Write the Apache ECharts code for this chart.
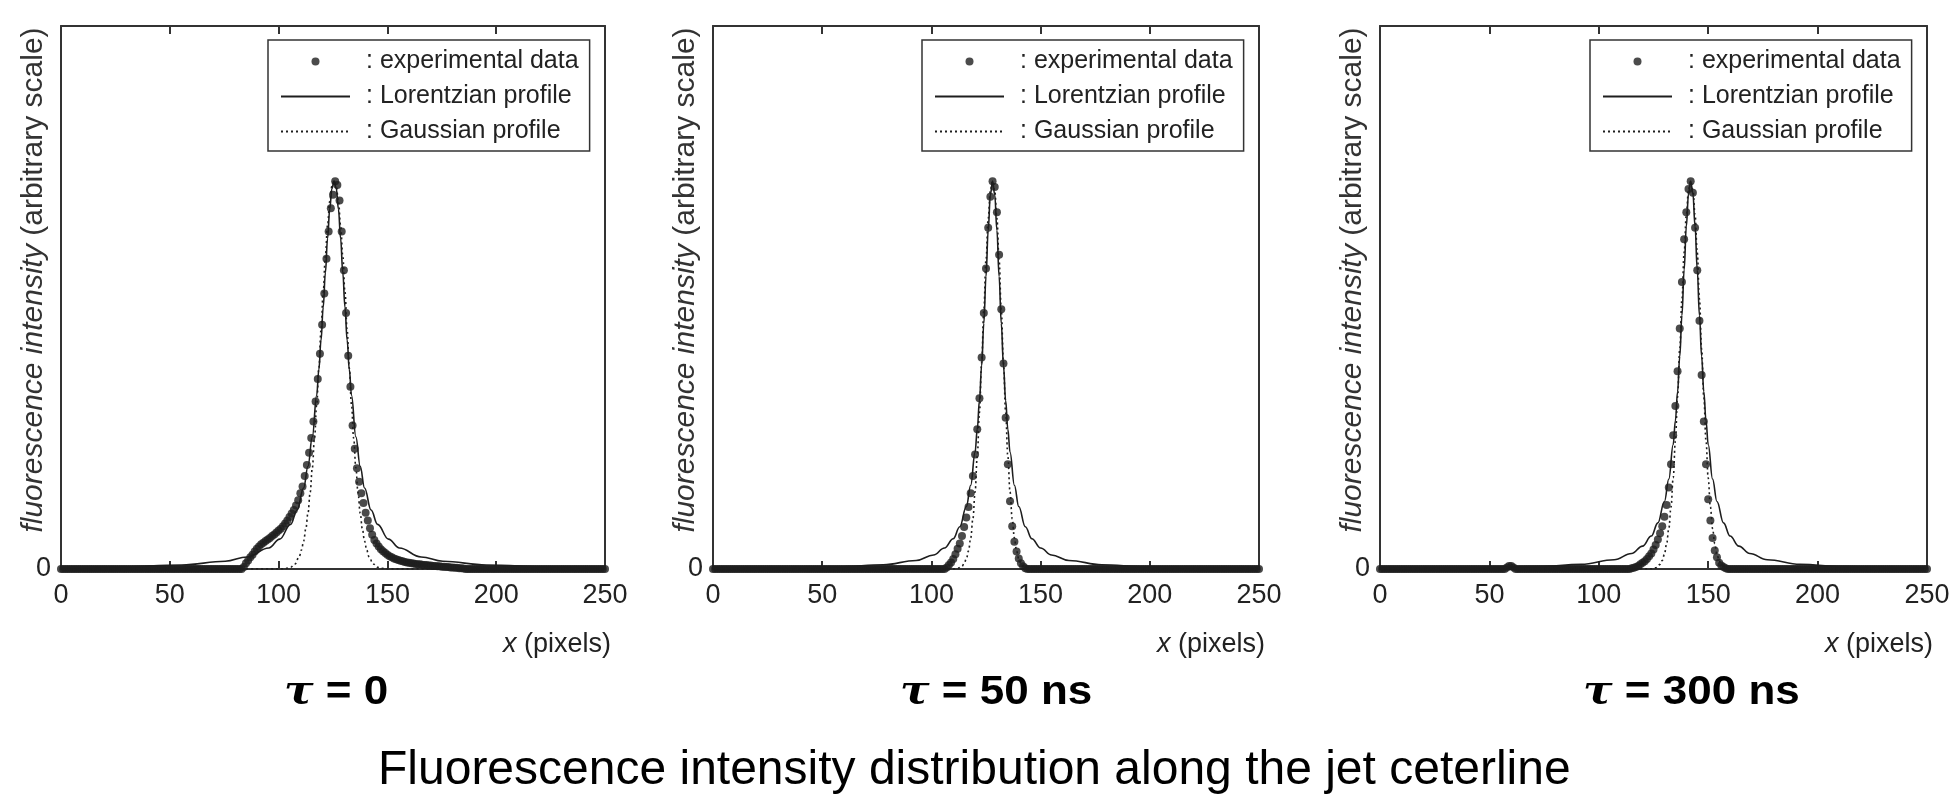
<!DOCTYPE html>
<html lang="en">
<head>
<meta charset="UTF-8" />
<title>Fluorescence intensity distribution along the jet ceterline</title>
<script src="https://cdn.jsdelivr.net/npm/echarts@6.0.0/dist/echarts.min.js"></script>
<style>
  html, body { margin: 0; padding: 0; background: #fff; }
  #chart { width: 1954px; height: 796px; }
</style>
</head>
<body>
<div id="chart"></div>
<script>
  // experimental data, one value per pixel x = 0..250 (10 per row)
  const exp0 = [
    0,0,0,0,0,0,0,0,0,0,
    0,0,0,0,0,0,0,0,0,0,
    0,0,0,0,0,0,0,0,0,0,
    0,0,0,0,0,0,0,0,0,0,
    0,0,0,0,0,0,0,0,0,0,
    0,0,0,0,0,0,0,0,0,0,
    0,0,0,0,0,0,0,0,0,0,
    0,0,0,0,0,0,0,0,0,0,
    0,0,0,0,.005,.015,.022,.03,.037,.045,
    .052,.058,.064,.068,.072,.076,.08,.085,.089,.094,
    .099,.104,.11,.117,.125,.134,.143,.152,.164,.177,
    .195,.213,.24,.268,.3,.338,.38,.432,.49,.555,
    .63,.71,.8,.87,.93,.965,1,.99,.95,.87,
    .77,.66,.55,.47,.37,.31,.26,.225,.195,.17,
    .145,.125,.105,.088,.075,.066,.058,.051,.046,.041,
    .037,.033,.03,.027,.025,.023,.021,.02,.018,.017,
    .016,.015,.014,.013,.012,.012,.011,.01,.01,.009,
    .009,.008,.008,.007,.007,.006,.006,.005,.005,.004,
    .004,.003,.003,.002,.002,.001,0,0,0,0,
    0,0,0,0,0,0,0,0,0,0,
    0,0,0,0,0,0,0,0,0,0,
    0,0,0,0,0,0,0,0,0,0,
    0,0,0,0,0,0,0,0,0,0,
    0,0,0,0,0,0,0,0,0,0,
    0,0,0,0,0,0,0,0,0,0,
    0
  ];
  const exp50 = [
    0,0,0,0,0,0,0,0,0,0,
    0,0,0,0,0,0,0,0,0,0,
    0,0,0,0,0,0,0,0,0,0,
    0,0,0,0,0,0,0,0,0,0,
    0,0,0,0,0,0,0,0,0,0,
    0,0,0,0,0,0,0,0,0,0,
    0,0,0,0,0,0,0,0,0,0,
    0,0,0,0,0,0,0,0,0,0,
    0,0,0,0,0,0,0,0,0,0,
    0,0,0,0,0,0,0,0,0,0,
    0,0,0,0,0,0,0,.004,.01,.017,
    .026,.038,.052,.066,.085,.108,.133,.16,.195,.24,
    .295,.36,.44,.545,.66,.775,.88,.96,1,.985,
    .92,.81,.67,.53,.39,.27,.175,.11,.07,.045,
    .027,.015,.007,.002,0,0,0,0,0,0,
    0,0,0,0,0,0,0,0,0,0,
    0,0,0,0,0,0,0,0,0,0,
    0,0,0,0,0,0,0,0,0,0,
    0,0,0,0,0,0,0,0,0,0,
    0,0,0,0,0,0,0,0,0,0,
    0,0,0,0,0,0,0,0,0,0,
    0,0,0,0,0,0,0,0,0,0,
    0,0,0,0,0,0,0,0,0,0,
    0,0,0,0,0,0,0,0,0,0,
    0,0,0,0,0,0,0,0,0,0,
    0
  ];
  const exp300 = [
    0,0,0,0,0,0,0,0,0,0,
    0,0,0,0,0,0,0,0,0,0,
    0,0,0,0,0,0,0,0,0,0,
    0,0,0,0,0,0,0,0,0,0,
    0,0,0,0,0,0,0,0,0,0,
    0,0,0,0,0,0,0,0,.004,.008,
    .008,.004,0,0,0,0,0,0,0,0,
    0,0,0,0,0,0,0,0,0,0,
    0,0,0,0,0,0,0,0,0,0,
    0,0,0,0,0,0,0,0,0,0,
    0,0,0,0,0,0,0,0,0,0,
    0,0,0,0,0,.002,.003,.005,.008,.012,
    .016,.02,.026,.033,.04,.05,.062,.076,.092,.11,
    .135,.165,.21,.27,.345,.42,.51,.62,.74,.85,
    .92,.98,1,.97,.88,.77,.64,.5,.38,.27,
    .18,.125,.08,.048,.03,.016,.009,.005,.002,0,
    0,0,0,0,0,0,0,0,0,0,
    0,0,0,0,0,0,0,0,0,0,
    0,0,0,0,0,0,0,0,0,0,
    0,0,0,0,0,0,0,0,0,0,
    0,0,0,0,0,0,0,0,0,0,
    0,0,0,0,0,0,0,0,0,0,
    0,0,0,0,0,0,0,0,0,0,
    0,0,0,0,0,0,0,0,0,0,
    0,0,0,0,0,0,0,0,0,0,
    0
  ];

  // fitted profiles
  const lorX0 = [0, 25.5, 55.5, 75.5, 85.5, 95.5, 100.5, 105.5, 108.5, 111.5, 113.5, 115.5, 117.5, 118.5, 119.5, 120.5, 121.5, 122.5, 123.5, 124.5, 125.5, 126.5, 127.5, 128.5, 129.5, 130.5, 131.5, 132.5, 133.5, 135.5, 137.5, 139.5, 142.5, 145.5, 150.5, 155.5, 165.5, 175.5, 195.5, 225.5, 250];
  const lorY0 = [.0033, .0052, .0105, .020, .031, .054, .077, .115, .152, .209, .265, .341, .448, .514, .590, .675, .764, .852, .928, .981, 1, .981, .928, .852, .764, .675, .590, .514, .448, .341, .265, .209, .152, .115, .077, .054, .031, .020, .0105, .0052, .0033];
  const gauX0 = [0, 101.5, 103.5, 105.5, 107.5, 109.5, 110.5, 111.5, 112.5, 113.5, 114.5, 115.5, 116.5, 117.5, 118.5, 119.5, 120.5, 121.5, 122.5, 123.5, 124.5, 125.5, 126.5, 127.5, 128.5, 129.5, 130.5, 131.5, 132.5, 133.5, 134.5, 135.5, 136.5, 137.5, 138.5, 139.5, 140.5, 141.5, 143.5, 145.5, 147.5, 149.5, 250];
  const gauY0 = [0, .0004, .0015, .0046, .0129, .032, .049, .072, .103, .144, .197, .261, .337, .423, .518, .616, .715, .807, .886, .948, .987, 1, .987, .948, .886, .807, .715, .616, .518, .423, .337, .261, .197, .144, .103, .072, .049, .032, .0129, .0046, .0015, .0004, 0];

  const lorX50 = [0, 28, 58, 78, 93, 101, 106, 110, 113, 116, 118, 120, 121, 122, 123, 124, 125, 126, 127, 128, 129, 130, 131, 132, 133, 134, 135, 136, 138, 140, 143, 146, 150, 155, 163, 178, 198, 228, 250];
  const lorY50 = [.0017, .0027, .0056, .0109, .022, .036, .054, .078, .109, .161, .216, .301, .360, .434, .524, .633, .754, .873, .965, 1, .965, .873, .754, .633, .524, .434, .360, .301, .216, .161, .109, .078, .054, .036, .022, .0109, .0056, .0027, .0018];
  const gauX50 = [0, 110, 112, 114, 115, 116, 117, 118, 119, 120, 121, 122, 123, 124, 125, 126, 127, 128, 129, 130, 131, 132, 133, 134, 135, 136, 137, 138, 139, 140, 141, 142, 144, 146, 250];
  const gauY50 = [0, .0003, .0016, .0071, .014, .026, .047, .080, .129, .199, .290, .403, .532, .668, .797, .904, .975, 1, .975, .904, .797, .668, .532, .403, .290, .199, .129, .080, .047, .026, .014, .0071, .0016, .0003, 0];

  const lorX300 = [0, 42, 72, 92, 107, 115, 120, 124, 127, 130, 132, 134, 135, 136, 137, 138, 139, 140, 141, 142, 143, 144, 145, 146, 147, 148, 149, 150, 152, 154, 157, 160, 164, 169, 177, 192, 212, 242, 250];
  const lorY300 = [.0015, .0030, .0061, .012, .024, .040, .059, .085, .119, .174, .232, .321, .382, .457, .548, .654, .771, .883, .968, 1, .968, .883, .771, .654, .548, .457, .382, .321, .232, .174, .119, .085, .059, .040, .024, .012, .0061, .0030, .0026];
  const gauX300 = [0, 124, 126, 128, 129, 130, 131, 132, 133, 134, 135, 136, 137, 138, 139, 140, 141, 142, 143, 144, 145, 146, 147, 148, 149, 150, 151, 152, 153, 154, 155, 156, 158, 160, 250];
  const gauY300 = [0, .0007, .0030, .0118, .022, .038, .065, .104, .160, .235, .330, .443, .568, .696, .816, .913, .978, 1, .978, .913, .816, .696, .568, .443, .330, .235, .160, .104, .065, .038, .022, .0118, .0030, .0007, 0];

  const captions = ['0', '50 ns', '300 ns'];
  const seriesNames = ['experimental data', 'Lorentzian profile', 'Gaussian profile'];
  const mainTitle = 'Fluorescence intensity distribution along the jet ceterline';

  const zip = (xs, ys) => xs.map((x, i) => [x, ys[i]]);

  const panels = [
    { exp: exp0, lor: zip(lorX0, lorY0), gau: zip(gauX0, gauY0) },
    { exp: exp50, lor: zip(lorX50, lorY50), gau: zip(gauX50, gauY50) },
    { exp: exp300, lor: zip(lorX300, lorY300), gau: zip(gauX300, gauY300) }
  ];

  // layout of the three panels (pixels)
  const layout = [
    { left: 61, width: 544, legendLeft: 268, capX: 284 },
    { left: 713, width: 546, legendLeft: 922, capX: 900 },
    { left: 1380, width: 547, legendLeft: 1590, capX: 1583 }
  ];

  const FONT = "'Liberation Sans', Arial, sans-serif";
  const INK = '#1e1e1e';
  const frame = { show: true, onZero: false, lineStyle: { color: '#333', width: 2 } };

  const grid = [], xAxis = [], yAxis = [], series = [], legend = [], graphic = [];

  layout.forEach((p, i) => {
    grid.push({ left: p.left, top: 26, width: p.width, height: 543 });

    xAxis.push({
      gridIndex: i, type: 'value', min: 0, max: 250, interval: 50,
      axisLine: frame,
      axisTick: { inside: true, length: 8, lineStyle: { color: '#333', width: 2 } },
      axisLabel: { fontSize: 27, color: '#222', fontFamily: FONT, margin: 13 },
      splitLine: { show: false },
      name: '{i|x} (pixels)',
      nameLocation: 'end',
      nameGap: 6,
      nameMoveOverlap: false,
      nameTextStyle: {
        align: 'right', verticalAlign: 'top', padding: [62, 0, 0, 0],
        fontSize: 27, color: '#222', fontFamily: FONT,
        rich: { i: { fontStyle: 'italic', fontSize: 27, color: '#222', fontFamily: FONT } }
      }
    });
    xAxis.push({
      gridIndex: i, type: 'value', position: 'top', min: 0, max: 250, interval: 50,
      axisLine: frame,
      axisTick: { inside: true, length: 8, lineStyle: { color: '#333', width: 2 } },
      axisLabel: { show: false },
      splitLine: { show: false }
    });

    yAxis.push({
      gridIndex: i, type: 'value', min: 0, max: 1.4, interval: 1.4,
      axisLine: frame,
      axisTick: { show: false },
      axisLabel: {
        fontSize: 27, color: '#222', fontFamily: FONT, margin: 10,
        formatter: v => (v === 0 ? '0' : '')
      },
      splitLine: { show: false },
      name: '{i|fluorescence intensity} (arbitrary scale)',
      nameLocation: 'middle',
      nameGap: 12,
      nameMoveOverlap: false,
      nameTextStyle: {
        fontSize: 30, color: '#333', fontFamily: FONT, padding: [0, 0, 0, 35],
        rich: { i: { fontStyle: 'italic', fontSize: 30, color: '#333', fontFamily: FONT } }
      }
    });
    yAxis.push({
      gridIndex: i, type: 'value', position: 'right', min: 0, max: 1.4, interval: 1.4,
      axisLine: frame,
      axisTick: { show: false },
      axisLabel: { show: false },
      splitLine: { show: false }
    });

    const d = panels[i];
    series.push({
      name: seriesNames[0], type: 'scatter', xAxisIndex: 2 * i, yAxisIndex: 2 * i,
      symbol: 'circle', symbolSize: 8, itemStyle: { color: INK }, z: 2,
      data: d.exp.map((v, k) => [k, v])
    });
    series.push({
      name: seriesNames[1], type: 'line', xAxisIndex: 2 * i, yAxisIndex: 2 * i,
      symbol: 'none', smooth: 0.4, smoothMonotone: 'x', z: 3,
      itemStyle: { color: INK },
      lineStyle: { color: INK, width: 1.6 },
      data: d.lor
    });
    series.push({
      name: seriesNames[2], type: 'line', xAxisIndex: 2 * i, yAxisIndex: 2 * i,
      symbol: 'none', smooth: 0.4, smoothMonotone: 'x', z: 4,
      itemStyle: { color: INK },
      lineStyle: { color: INK, width: 1.6, type: [2, 3] },
      data: d.gau
    });

    legend.push({
      left: p.legendLeft, top: 40, orient: 'vertical',
      borderColor: '#333', borderWidth: 1.5, borderRadius: 0,
      padding: [9, 11, 7, 12],
      itemWidth: 69, itemHeight: 8, itemGap: 10,
      selectedMode: false,
      data: [
        { name: seriesNames[0], icon: 'circle' },
        { name: seriesNames[1], itemStyle: { opacity: 0 } },
        { name: seriesNames[2], itemStyle: { opacity: 0 } }
      ],
      formatter: n => '{t|: ' + n + '}',
      textStyle: {
        rich: { t: { fontSize: 25, lineHeight: 28, padding: [0, 0, 0, 11], color: '#222', fontFamily: FONT } }
      }
    });

    graphic.push({
      type: 'text', x: p.capX, y: 693, scaleX: 1.1,
      style: {
        text: '{t|\u03c4} = ' + captions[i],
        fontSize: 40, fontFamily: FONT, fontWeight: 'bold', fill: '#000', verticalAlign: 'middle',
        rich: { t: { fontSize: 40, fontFamily: "'DejaVu Serif', serif", fontStyle: 'italic', fontWeight: 'bold', fill: '#000' } }
      }
    });
  });

  graphic.push({
    type: 'text', x: 378, y: 771,
    style: { text: mainTitle, fontSize: 48, fontFamily: FONT, fill: '#000', verticalAlign: 'middle' }
  });

  const chart = echarts.init(document.getElementById('chart'));
  chart.setOption({
    animation: false,
    backgroundColor: '#fff',
    grid, xAxis, yAxis, series, legend, graphic
  });
</script>
</body>
</html>
